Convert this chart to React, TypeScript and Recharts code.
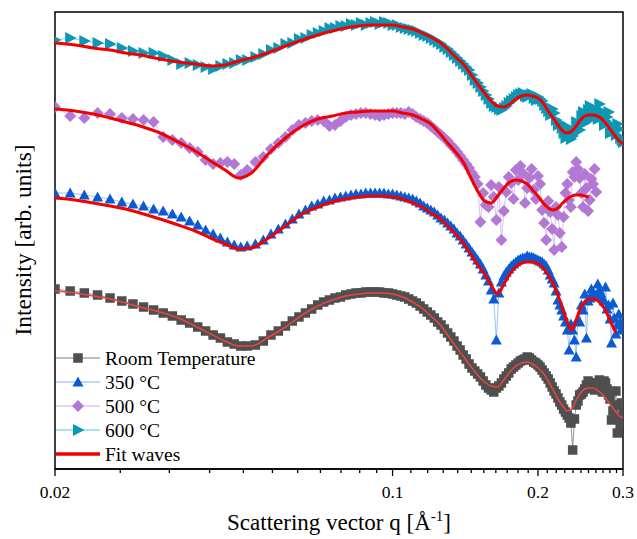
import React from 'react';
import { LineChart, Line, XAxis, YAxis, ReferenceArea } from 'recharts';

const FONT = "'Liberation Serif', 'Times New Roman', serif";

// q grid [1/Å] of the measured curves
const qGrid = [
  0.02, 0.0215, 0.023, 0.0245, 0.026, 0.0275, 0.029, 0.0305, 0.032, 0.0335,
  0.035, 0.0365, 0.038, 0.0395, 0.041, 0.0425, 0.044, 0.0455, 0.047, 0.0485, 0.05,
  0.052, 0.054, 0.056, 0.058, 0.06, 0.062, 0.064, 0.066, 0.068, 0.07,
  0.072, 0.074, 0.076, 0.078, 0.08, 0.082, 0.084, 0.086, 0.088, 0.09,
  0.092, 0.094, 0.096, 0.098, 0.1,
  0.102, 0.104, 0.106, 0.108, 0.11, 0.112, 0.114, 0.116, 0.118, 0.12,
  0.122, 0.124, 0.126, 0.128, 0.13, 0.132, 0.134, 0.136, 0.138, 0.14,
  0.142, 0.144, 0.146, 0.148, 0.15, 0.152, 0.154, 0.156, 0.158, 0.16,
  0.162, 0.164, 0.166, 0.168, 0.17, 0.172, 0.174, 0.176, 0.178, 0.18,
  0.182, 0.184, 0.186, 0.188, 0.19, 0.192, 0.194, 0.196, 0.198, 0.2,
  0.202, 0.204, 0.206, 0.208, 0.21, 0.212, 0.214, 0.216, 0.218, 0.22,
  0.222, 0.224, 0.226, 0.228, 0.23, 0.232, 0.234, 0.236, 0.238, 0.24,
  0.242, 0.244, 0.246, 0.248, 0.25, 0.252, 0.254, 0.256, 0.258, 0.26,
  0.262, 0.264, 0.266, 0.268, 0.27, 0.272, 0.274, 0.276, 0.278, 0.28,
  0.282, 0.284, 0.286, 0.288, 0.29, 0.292, 0.294, 0.296, 0.298, 0.3,
];

// intensities (arb. units, curves offset for clarity)
const roomTemp = [
  180, 178, 176, 174, 171, 168, 165, 162, 159, 156,
  153, 149, 146, 142, 138, 134, 131, 127, 125, 123, 123,
  124, 128, 134, 138, 143, 148, 152, 156, 160, 164,
  167, 169, 171, 172, 174, 175, 176, 176, 177, 177,
  177, 177, 176, 176, 175,
  174, 173, 172, 170, 168, 166, 163, 160, 157, 154,
  151, 147, 144, 140, 136, 132, 128, 123, 119, 114,
  110, 105, 101, 98, 95, 92, 88, 84, 81, 79,
  77, 81, 83, 86, 90, 93, 96, 100, 102, 104,
  106, 108, 109, 110, 112, 111, 109, 107, 106, 104,
  102, 99, 96, 93, 90, 86, 82, 78, 75, 71,
  67, 64, 60, 57, 54, 51, 46, 19, 50, 64,
  68, 74, 75, 77, 80, 84, 88, 86, 83, 81,
  79, 84, 86, 89, 82, 77, 88, 86, 80, 74,
  70, 49, 58, 64, 78, 36, 52, 44, 66, 59,
];

const t350 = [
  276, 276, 274, 272, 270, 267, 265, 263, 260, 258,
  255, 252, 248, 244, 239, 235, 231, 227, 224, 222, 223,
  225, 229, 235, 240, 245, 250, 255, 259, 263, 265,
  268, 269, 271, 272, 273, 274, 275, 275, 276, 276,
  276, 276, 276, 275, 275,
  274, 273, 272, 271, 270, 268, 266, 263, 261, 259,
  257, 254, 251, 249, 246, 243, 240, 236, 233, 229,
  225, 221, 217, 213, 209, 205, 200, 194, 188, 179,
  170, 129, 176, 187, 193, 197, 200, 203, 205, 207,
  209, 210, 211, 211, 213, 212, 212, 211, 210, 209,
  208, 207, 205, 203, 199, 194, 190, 186, 178, 169,
  164, 159, 153, 147, 139, 119, 145, 139, 129, 112,
  150, 147, 164, 159, 175, 131, 168, 171, 180, 177,
  172, 174, 185, 179, 176, 171, 168, 182, 160, 164,
  150, 126, 166, 151, 135, 144, 155, 147, 140, 139,
];

const t500 = [
  362, 353, 351, 356, 355, 351, 350, 349, 347, 332,
  329, 326, 321, 317, 309, 305, 306, 307, 305, 294, 299,
  307, 312, 320, 326, 332, 339, 344, 346, 348, 349,
  348, 343, 344, 348, 352, 354, 355, 356, 356, 355,
  354, 353, 354, 355, 356,
  356, 356, 355, 357, 355, 352, 350, 348, 346, 343,
  340, 337, 334, 331, 328, 324, 321, 317, 313, 309,
  305, 301, 296, 292, 285, 247, 276, 264, 262, 284,
  272, 249, 282, 229, 258, 277, 292, 286, 270, 299,
  289, 303, 296, 266, 281, 291, 300, 279, 270, 293,
  285, 259, 246, 229, 268, 257, 240, 219, 262, 254,
  236, 222, 252, 276, 285, 269, 262, 297, 292, 307,
  300, 291, 276, 262, 295, 281, 258, 269, 290, 285,
  300, 277,
];

const t600 = [
  429, 431, 428, 426, 425, 421, 418, 416, 416, 413,
  409, 405, 406, 404, 402, 400, 403, 405, 406, 409, 409,
  412, 415, 419, 421, 425, 426, 430, 431, 434, 436,
  438, 441, 441, 443, 443, 445, 444, 446, 444, 446,
  447, 445, 447, 446, 444,
  444, 442, 441, 440, 439, 438, 436, 434, 433, 431,
  429, 427, 425, 422, 420, 417, 414, 411, 408, 405,
  402, 399, 394, 389, 386, 382, 378, 374, 370, 366,
  363, 362, 360, 359, 361, 363, 366, 368, 370, 372,
  374, 375, 376, 373, 372, 374, 375, 371, 369, 372,
  370, 368, 364, 361, 358, 354, 360, 356, 349, 344,
  346, 341, 336, 331, 342, 338, 330, 333, 336, 347,
  344, 339, 353, 357, 346, 350, 359, 363, 355, 351,
  360, 355, 350, 365, 358, 352, 344, 348, 352, 357,
  336, 341, 343, 338, 334, 345, 340, 331, 329, 327,
];

// fit curves, sampled on their own grid
const fitQ = [
  0.02, 0.022, 0.024, 0.026, 0.028, 0.03, 0.033, 0.036, 0.039, 0.042,
  0.045, 0.048, 0.051, 0.055, 0.06, 0.065, 0.07, 0.075, 0.08, 0.085,
  0.09, 0.095, 0.1, 0.105, 0.11, 0.115, 0.12, 0.125, 0.13, 0.135,
  0.14, 0.145, 0.15, 0.155, 0.16, 0.165, 0.17, 0.175, 0.18, 0.185,
  0.19, 0.195, 0.2, 0.205, 0.21, 0.215, 0.22, 0.225, 0.23, 0.235,
  0.24, 0.245, 0.25, 0.255, 0.26, 0.265, 0.27, 0.275, 0.28, 0.285,
  0.29, 0.295, 0.3,
];

const fitRoom = [
  178, 176, 173, 170, 166, 162, 157, 151, 143, 135,
  128, 123, 123, 131, 142, 154, 163, 169, 173, 175,
  176, 176, 175, 172, 167, 161, 153, 145, 134, 123,
  113, 103, 94, 87, 83, 82, 89, 97, 103, 106,
  107, 105, 101, 96, 88, 79, 70, 63, 58, 60,
  69, 76, 80, 81, 81, 79, 76, 72, 67, 62,
  57, 53, 51,
];

const fit350 = [
  271, 269, 266, 263, 260, 256, 250, 244, 238, 231,
  225, 220, 221, 230, 243, 255, 262, 267, 270, 272,
  273, 273, 272, 270, 266, 262, 256, 251, 243, 235,
  226, 215, 204, 195, 184, 175, 185, 195, 202, 206,
  207, 207, 205, 201, 194, 185, 174, 160, 147, 139,
  149, 161, 167, 170, 170, 169, 165, 160, 152, 144,
  136,
];

const fit500 = [
  360, 358, 355, 351, 347, 343, 336, 327, 318, 308,
  299, 291, 296, 314, 331, 343, 350, 353, 356, 357,
  358, 358, 358, 356, 354, 350, 345, 336, 326, 317,
  307, 292, 278, 268, 266, 273, 281, 287, 289, 288,
  285, 279, 273, 266, 261, 259, 261, 266, 270, 273,
  274, 274, 273, 272,
];

const fit600 = [
  426, 424, 421, 419, 416, 414, 410, 407, 405, 403,
  404, 408, 411, 416, 423, 429, 434, 438, 441, 443,
  444, 444, 444, 442, 440, 436, 432, 427, 420, 412,
  405, 395, 385, 376, 368, 363, 362, 365, 370, 373,
  374, 373, 371, 366, 358, 351, 344, 338, 336, 338,
  343, 349, 353, 354, 354, 353, 351, 347, 342, 337,
  332, 328, 325,
];

const majorTicks = [0.02, 0.1, 0.2, 0.3];
const minorTicks = [
  0.0273, 0.0345, 0.0418, 0.0491, 0.0564, 0.0636, 0.0709, 0.0782, 0.0855, 0.0927,
  0.1091, 0.1182, 0.1273, 0.1364, 0.1455, 0.1545, 0.1636, 0.1727, 0.1818, 0.1909,
  0.2091, 0.2182, 0.2273, 0.2364, 0.2455, 0.2545, 0.2636, 0.2727, 0.2818, 0.2909,
];

const toPoints = (xs: number[], ys: number[]) => ys.map((v, i) => ({ q: xs[i], v }));

type MarkerProps = { cx: number; cy: number; color: string };

function SquareMark({ cx, cy, color }: MarkerProps) {
  return <rect x={cx - 4.75} y={cy - 4.75} width={9.5} height={9.5} fill={color} />;
}

function TriangleMark({ cx, cy, color }: MarkerProps) {
  return <polygon points={`${cx},${cy - 5.5} ${cx + 5.5},${cy + 4.5} ${cx - 5.5},${cy + 4.5}`} fill={color} />;
}

function DiamondMark({ cx, cy, color }: MarkerProps) {
  return <polygon points={`${cx},${cy - 6} ${cx + 6},${cy} ${cx},${cy + 6} ${cx - 6},${cy}`} fill={color} />;
}

function RightTriangleMark({ cx, cy, color }: MarkerProps) {
  return <polygon points={`${cx - 5},${cy - 6} ${cx + 6.5},${cy} ${cx - 5},${cy + 6}`} fill={color} />;
}

const SERIES = [
  { name: 'Room Temperature', data: toPoints(qGrid, roomTemp), fit: toPoints(fitQ, fitRoom), Mark: SquareMark, color: '#4f4f4f', line: '#7a7a7a', fitColor: '#ee4444', fitWidth: 1.5 },
  { name: '350 °C', data: toPoints(qGrid, t350), fit: toPoints(fitQ, fit350), Mark: TriangleMark, color: '#0a5bd3', line: '#86aef0', fitColor: '#f20000', fitWidth: 3 },
  { name: '500 °C', data: toPoints(qGrid, t500), fit: toPoints(fitQ, fit500), Mark: DiamondMark, color: '#b279d4', line: '#d2aee8', fitColor: '#f20000', fitWidth: 3 },
  { name: '600 °C', data: toPoints(qGrid, t600), fit: toPoints(fitQ, fit600), Mark: RightTriangleMark, color: '#0b98b5', line: '#5cc6da', fitColor: '#f20000', fitWidth: 3 },
];

function makeDot(Mark: (p: MarkerProps) => React.ReactElement, color: string) {
  return (props: any) => {
    const { cx, cy, index } = props;
    if (cx == null || cy == null) return <g key={`d-${index}`} />;
    return (
      <g key={`d-${index}`}>
        <Mark cx={cx} cy={cy} color={color} />
      </g>
    );
  };
}

function AxisTick({ x, y, payload }: any) {
  const major = majorTicks.includes(payload.value);
  return (
    <g>
      <line x1={x} x2={x} y1={y} y2={y + (major ? 7 : 4)} stroke="#000" strokeWidth={1.3} />
      {major && (
        <text x={x} y={y + 29} textAnchor="middle" fontSize={17.5} fontFamily={FONT} fill="#000">
          {payload.value}
        </text>
      )}
    </g>
  );
}

function Overlay() {
  const rowY = [358, 382, 406, 430, 454];
  return (
    <svg width={637} height={539} style={{ position: 'absolute', left: 0, top: 0, pointerEvents: 'none' }}>
      <text
        x={31}
        y={240}
        transform="rotate(-90, 31, 240)"
        textAnchor="middle"
        fontSize={23.5}
        fontFamily={FONT}
        fill="#000"
      >
        Intensity [arb. units]
      </text>
      <text x={339} y={530} textAnchor="middle" fontSize={23} fontFamily={FONT} fill="#000">
        <tspan>Scattering vector q [Å</tspan>
        <tspan dy={-9} fontSize={15}>-1</tspan>
        <tspan dy={9}>]</tspan>
      </text>
      {SERIES.map((s, i) => (
        <g key={s.name}>
          <line x1={56} x2={100} y1={rowY[i]} y2={rowY[i]} stroke={s.line} strokeWidth={1} />
          <s.Mark cx={78} cy={rowY[i]} color={s.color} />
          <text x={105} y={rowY[i] + 6.5} fontSize={19.5} fontFamily={FONT} fill="#000">
            {s.name}
          </text>
        </g>
      ))}
      <line x1={56} x2={100} y1={rowY[4]} y2={rowY[4]} stroke="#f20000" strokeWidth={3.5} />
      <text x={105} y={rowY[4] + 6.5} fontSize={19.5} fontFamily={FONT} fill="#000">
        Fit waves
      </text>
    </svg>
  );
}

const X_PROPS = {
  dataKey: 'q',
  type: 'number' as const,
  scale: 'log' as const,
  domain: [0.02, 0.3],
  allowDataOverflow: true,
};

const Y_PROPS = {
  type: 'number' as const,
  domain: [0, 457],
  allowDataOverflow: true,
};

export default function App() {
  return (
    <div style={{ position: 'absolute', left: 0, top: 0, width: 637, height: 539, background: '#fff' }}>
      {/* measured curves, axes and frame */}
      <div style={{ position: 'absolute', left: 0, top: 0 }}>
        <LineChart width={637} height={539} margin={{ top: 12, right: 14, bottom: 0, left: 0 }}>
          <XAxis
            {...X_PROPS}
            ticks={[...majorTicks, ...minorTicks]}
            interval={0}
            tickLine={false}
            tickSize={0}
            tickMargin={0}
            tick={<AxisTick />}
            axisLine={{ stroke: '#000', strokeWidth: 1.5 }}
            height={70}
          />
          <YAxis {...Y_PROPS} tick={false} tickLine={false} axisLine={false} width={55} />
          <ReferenceArea x1={0.02} x2={0.3} y1={0} y2={457} fill="none" stroke="#000" strokeWidth={1.5} />
          {SERIES.map((s) => (
            <Line
              key={`${s.name}-data`}
              data={s.data}
              dataKey="v"
              type="linear"
              stroke={s.line}
              strokeWidth={0.8}
              dot={makeDot(s.Mark, s.color)}
              activeDot={false}
              isAnimationActive={false}
            />
          ))}
        </LineChart>
      </div>
      {/* fit waves drawn above the markers */}
      <div style={{ position: 'absolute', left: 0, top: 0 }}>
        <LineChart width={637} height={539} margin={{ top: 12, right: 14, bottom: 70, left: 55 }}>
          <XAxis {...X_PROPS} hide />
          <YAxis {...Y_PROPS} hide />
          {SERIES.map((s) => (
            <Line
              key={`${s.name}-fit`}
              data={s.fit}
              dataKey="v"
              type="monotone"
              stroke={s.fitColor}
              strokeWidth={s.fitWidth}
              dot={false}
              activeDot={false}
              isAnimationActive={false}
            />
          ))}
        </LineChart>
      </div>
      <Overlay />
    </div>
  );
}
